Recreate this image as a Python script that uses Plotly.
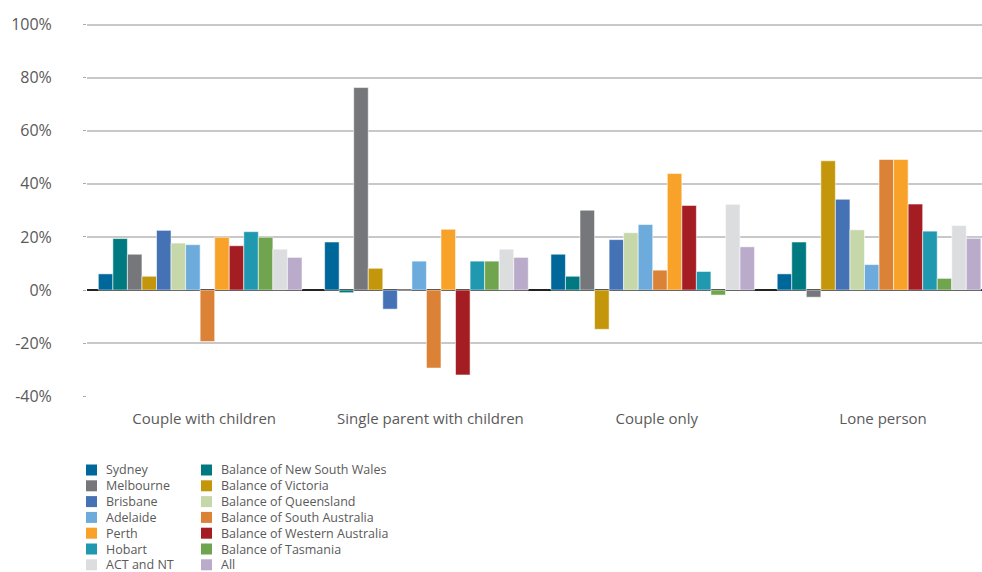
import plotly.graph_objects as go

categories = ["Couple with children", "Single parent with children", "Couple only", "Lone person"]

series_names = [
    "Sydney", "Balance of New South Wales", "Melbourne", "Balance of Victoria",
    "Brisbane", "Balance of Queensland", "Adelaide", "Balance of South Australia",
    "Perth", "Balance of Western Australia", "Hobart", "Balance of Tasmania",
    "ACT and NT", "All",
]

sydney = [6.1, 18.1, 13.5, 6.1]
bal_nsw = [19.4, -1.0, 5.2, 18.1]
melbourne = [13.5, 76.3, 30.1, -2.7]
bal_vic = [5.2, 8.2, -14.8, 48.7]
brisbane = [22.5, -7.2, 19.0, 34.2]
bal_qld = [17.7, 0.0, 21.6, 22.7]
adelaide = [17.1, 10.9, 24.7, 9.6]
bal_sa = [-19.4, -29.4, 7.5, 49.2]
perth = [19.9, 22.9, 43.9, 49.2]
bal_wa = [16.7, -32.0, 31.9, 32.4]
hobart = [22.0, 10.9, 7.0, 22.2]
bal_tas = [19.9, 10.9, -1.9, 4.4]
act_nt = [15.4, 15.4, 32.3, 24.3]
all_hh = [12.3, 12.3, 16.3, 19.5]

series_values = [sydney, bal_nsw, melbourne, bal_vic, brisbane, bal_qld, adelaide,
                 bal_sa, perth, bal_wa, hobart, bal_tas, act_nt, all_hh]

colors = ["#00679A", "#007A80", "#76777B", "#C4960C", "#4472B4", "#C6D8A9", "#6DABDC",
          "#DB8236", "#F8A22A", "#A41D23", "#2098AF", "#70A44F", "#DCDDDF", "#B9ABC9"]

y_ticks = [-40, -20, 0, 20, 40, 60, 80, 100]
y_tick_labels = [f"{v}%" for v in y_ticks]

FONT = "Open Sans"
TXT = "#5A5A5A"

W, H = 982, 572
ML, MR, MT, MB = 87, 0, 22, 175
PW, PH = W - ML - MR, H - MT - MB

fig = go.Figure()
for name, vals, col in zip(series_names, series_values, colors):
    fig.add_trace(go.Bar(
        name=name, x=categories, y=vals,
        marker=dict(color=col, line=dict(color="rgba(255,255,255,0.55)", width=1)),
        showlegend=False,
    ))

# Legend (two columns, row-wise order) drawn as swatches + text
def px_x(p):
    return (p - ML) / PW

def px_y(p):
    return (MT + PH - p) / PH

shapes = []
annotations = []
for i, (name, col) in enumerate(zip(series_names, colors)):
    row, colm = i // 2, i % 2
    cy = 470 + 15.8 * row
    sx = 86 if colm == 0 else 201
    shapes.append(dict(type="rect", xref="paper", yref="paper",
                       x0=px_x(sx), x1=px_x(sx + 11), y0=px_y(cy + 5.5), y1=px_y(cy - 5.5),
                       fillcolor=col, line=dict(width=0)))
    annotations.append(dict(xref="paper", yref="paper", x=px_x(sx + 19), y=px_y(cy),
                            xanchor="left", yanchor="middle", showarrow=False, borderpad=0,
                            text=name, font=dict(family=FONT, size=12.5, color=TXT)))

fig.update_layout(
    width=W, height=H,
    margin=dict(l=ML, r=MR, t=MT, b=MB),
    paper_bgcolor="white", plot_bgcolor="white",
    barmode="group", bargap=0.1, bargroupgap=0,
    font=dict(family=FONT, color=TXT),
    shapes=shapes, annotations=annotations,
    showlegend=False,
)
fig.update_xaxes(
    range=[-0.5, 3.455], showgrid=False, zeroline=False, showline=False,
    tickfont=dict(family=FONT, size=15, color=TXT), ticks="", ticklabelstandoff=11,
    ticklabelshift=4,
)
fig.update_yaxes(
    range=[-40.3, 101], tickvals=y_ticks, ticktext=y_tick_labels,
    showgrid=True, gridcolor="#C8C8C8", gridwidth=1.5,
    zeroline=True, zerolinecolor="#222222", zerolinewidth=1.5,
    showline=False, ticks="outside", ticklen=3, tickcolor="#AAAAAA",
    tickfont=dict(family=FONT, size=16, color=TXT), ticklabelstandoff=28,
)

fig.write_html(
    "out.html",
    config={"displayModeBar": False},
    post_script="document.body.style.margin='0';document.body.style.overflow='hidden';",
)
